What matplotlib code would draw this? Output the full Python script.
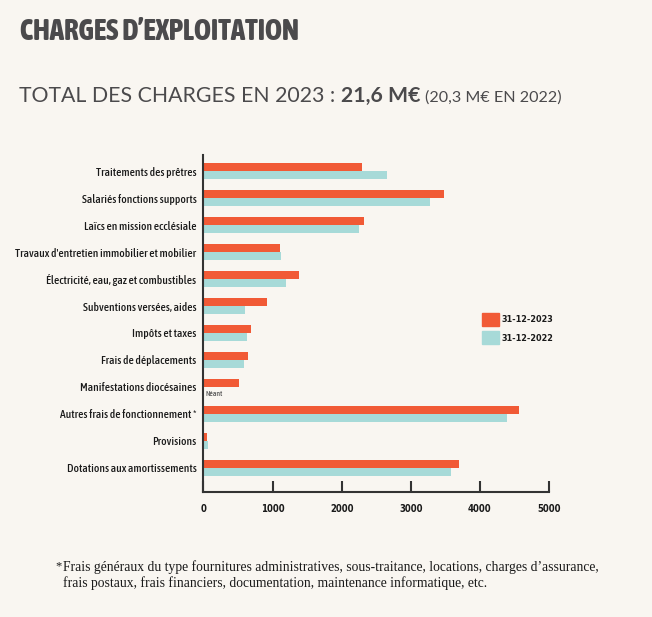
import numpy as np
import matplotlib.pyplot as plt
from matplotlib.patches import Patch
from matplotlib import font_manager as fm

# Données (en milliers d'euros)
categories = [
    "Traitements des prêtres",
    "Salariés fonctions supports",
    "Laïcs en mission ecclésiale",
    "Travaux d'entretien immobilier et mobilier",
    "Électricité, eau, gaz et combustibles",
    "Subventions versées, aides",
    "Impôts et taxes",
    "Frais de déplacements",
    "Manifestations diocésaines",
    "Autres frais de fonctionnement *",
    "Provisions",
    "Dotations aux amortissements",
]
valeurs_2023 = [2290, 3480, 2320, 1105, 1380, 915, 685, 640, 510, 4570, 45, 3700]
valeurs_2022 = [2650, 3280, 2250, 1120, 1195, 600, 630, 585, 0, 4395, 60, 3585]
x_ticks = [0, 1000, 2000, 3000, 4000, 5000]
legende = ["31-12-2023", "31-12-2022"]

ORANGE = "#F15A36"
TURQUOISE = "#A7DAD8"
FOND = "#F9F6F1"
GRIS = "#4B4A4C"

RANG_STRETCH = {"ultra-condensed": 0, "extra-condensed": 1, "condensed": 2,
                "semi-condensed": 3}


def police_etroite(poids):
    """Cherche la police installée la plus condensée, proche du poids voulu."""
    cand = []
    for f in fm.fontManager.ttflist:
        nom = (f.name + " " + f.fname).lower()
        if "italic" in nom or "oblique" in nom:
            continue
        if f.stretch in RANG_STRETCH:
            rang = RANG_STRETCH[f.stretch]
        elif "extracondensed" in nom.replace(" ", "").replace("-", ""):
            rang = 1
        elif "condensed" in nom or "narrow" in nom:
            rang = 2
        else:
            continue
        w = f.weight if isinstance(f.weight, int) else (700 if "bold" in str(f.weight) else 400)
        cand.append((rang, abs(w - poids), f.fname))
    if cand:
        cand.sort()
        return fm.FontProperties(fname=cand[0][2])
    return fm.FontProperties(family="DejaVu Sans", weight="bold" if poids >= 600 else "normal")


fp_lab = police_etroite(500)
fp_bold = police_etroite(700)
fp_titre = police_etroite(800)

fig = plt.figure(figsize=(6.52, 6.17), dpi=100, facecolor=FOND)
ax = fig.add_axes([0.312, 0.2026, 0.530, 0.546], facecolor=FOND)
renderer = fig.canvas.get_renderer()


def taille_pour(texte, fp, largeur_px):
    """Taille de police pour que le texte occupe la largeur voulue."""
    t = fig.text(0, 0, texte, fontproperties=fp, fontsize=10)
    bb = t.get_window_extent(renderer=renderer)
    t.remove()
    return 10 * largeur_px / bb.width


y = np.arange(len(categories))
h = 0.3
ax.barh(y - h / 2, valeurs_2023, height=h, color=ORANGE)
ax.barh(y + h / 2, valeurs_2022, height=h, color=TURQUOISE)

ax.set_ylim(len(categories) - 0.1, -0.6)
ax.set_xlim(0, 5000)
ax.set_yticks(y)
taille_lab = min(taille_pour(categories[3], fp_lab, 178), 9.5)
ax.set_yticklabels(categories, fontproperties=fp_lab, fontsize=taille_lab, color="#1a1a1a")
ax.set_xticks(x_ticks)
taille_x = min(taille_pour("5000", fp_bold, 24), 9.5)
ax.set_xticklabels([str(v) for v in x_ticks], fontproperties=fp_bold, fontsize=taille_x,
                   color="#1a1a1a")

ax.tick_params(axis="y", length=0, pad=5)
ax.tick_params(axis="x", direction="in", length=8, width=1.5, pad=9, color="#333333")
for s in ["top", "right"]:
    ax.spines[s].set_visible(False)
for s in ["left", "bottom"]:
    ax.spines[s].set_linewidth(1.5)
    ax.spines[s].set_color("#333333")

# Mention "Néant" pour 2022
idx = categories.index("Manifestations diocésaines")
ax.text(30, idx + h / 2 + 0.1, "Néant", fontproperties=fp_lab, fontsize=5.5,
        style="italic", color="#555555", va="center", ha="left")

# Légende
taille_leg = min(taille_pour(legende[0], fp_bold, 52), 14)
prop_leg = fp_bold.copy()
prop_leg.set_size(taille_leg)
px_em = taille_leg * 100 / 72
handles = [Patch(color=ORANGE), Patch(color=TURQUOISE)]
leg = ax.legend(handles, legende, loc="upper left", bbox_to_anchor=(0.806, 0.532),
                frameon=False, borderpad=0, borderaxespad=0,
                handlelength=17 / px_em, handleheight=17 / px_em,
                labelspacing=5 / px_em, handletextpad=3 / px_em, prop=prop_leg)
for t in leg.get_texts():
    t.set_color("#1a1a1a")

# Titres
taille_titre = min(taille_pour("CHARGES D\u2019EXPLOITATION", fp_titre, 280), 27)
fig.text(20 / 652, 1 - 31 / 617, "CHARGES D\u2019EXPLOITATION", fontproperties=fp_titre,
         fontsize=taille_titre, color=GRIS, va="center", ha="left")

xpos = 19 / 652
ypos = 1 - 102 / 617
morceaux = [
    ("TOTAL DES CHARGES EN 2023 : ", 15.3, "normal"),
    ("21,6 M€ ", 15.3, "bold"),
    ("(20,3 M€ EN 2022)", 11.6, "normal"),
]
for txt, size, weight in morceaux:
    t = fig.text(xpos, ypos, txt, family=["Lato", "DejaVu Sans"], fontsize=size,
                 fontweight=weight, color=GRIS, va="baseline", ha="left")
    bb = t.get_window_extent(renderer=renderer)
    xpos += bb.width / fig.bbox.width

# Note de bas de page
serif = ["Liberation Serif", "DejaVu Serif"]
fig.text(55 / 652, 1 - 566 / 617, "*", family=serif,
         fontsize=9, color="#1a1a1a", va="center", ha="left")
fig.text(63 / 652, 1 - 575.5 / 617,
         "Frais généraux du type fournitures administratives, sous-traitance, locations, charges d\u2019assurance,\n"
         "frais postaux, frais financiers, documentation, maintenance informatique, etc.",
         family=serif, fontsize=9.8, color="#1a1a1a",
         va="center", ha="left", linespacing=1.2)

fig.savefig("out.png", dpi=100, facecolor=FOND)
